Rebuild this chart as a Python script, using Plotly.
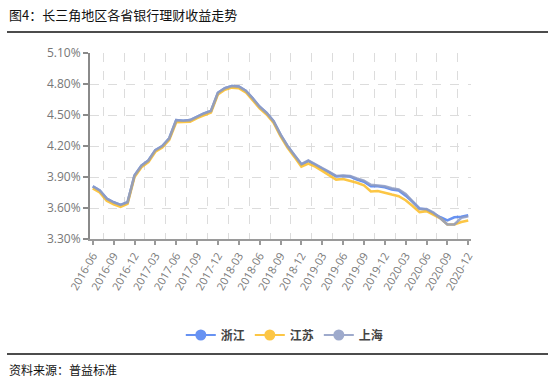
import plotly.graph_objects as go

# ---- data ----
months = [f"{y}-{m:02d}" for y in range(2016, 2021) for m in range(1, 13)]
months = months[months.index("2016-06"):months.index("2020-12") + 1]

zhejiang = [3.81, 3.77, 3.69, 3.655, 3.63, 3.655, 3.915, 4.01, 4.06, 4.16,
            4.20, 4.275, 4.45, 4.445, 4.45, 4.485, 4.515, 4.54, 4.715, 4.76,
            4.78, 4.775, 4.735, 4.66, 4.58, 4.52, 4.44, 4.31, 4.20, 4.11,
            4.02, 4.055, 4.015, 3.98, 3.945, 3.905, 3.91, 3.905, 3.875, 3.855,
            3.81, 3.81, 3.80, 3.78, 3.77, 3.72, 3.66, 3.595, 3.585, 3.545,
            3.51, 3.48, 3.51, 3.515, 3.53]
jiangsu = [3.79, 3.75, 3.67, 3.635, 3.61, 3.64, 3.90, 3.995, 4.045, 4.145,
           4.185, 4.26, 4.43, 4.43, 4.435, 4.47, 4.50, 4.525, 4.70, 4.745,
           4.765, 4.76, 4.72, 4.645, 4.565, 4.505, 4.425, 4.295, 4.185, 4.095,
           4.00, 4.03, 4.00, 3.96, 3.915, 3.875, 3.88, 3.865, 3.845, 3.82,
           3.76, 3.765, 3.745, 3.73, 3.715, 3.675, 3.62, 3.56, 3.57, 3.535,
           3.50, 3.44, 3.44, 3.465, 3.48]
shanghai = [3.81, 3.77, 3.69, 3.655, 3.63, 3.655, 3.915, 4.01, 4.06, 4.16,
            4.20, 4.275, 4.45, 4.445, 4.45, 4.485, 4.515, 4.54, 4.715, 4.76,
            4.78, 4.775, 4.735, 4.66, 4.58, 4.52, 4.44, 4.31, 4.20, 4.11,
            4.025, 4.06, 4.02, 3.985, 3.95, 3.91, 3.915, 3.91, 3.885, 3.865,
            3.825, 3.82, 3.81, 3.79, 3.78, 3.735, 3.665, 3.59, 3.59, 3.555,
            3.50, 3.44, 3.44, 3.505, 3.52]

series = [("浙江", zhejiang, "#4D7FF0"),
          ("江苏", jiangsu, "#FCBD25"),
          ("上海", shanghai, "#8E9CC4")]

yticks = [3.30, 3.60, 3.90, 4.20, 4.50, 4.80, 5.10]

title_text = "图4：长三角地区各省银行理财收益走势"
source_text = "资料来源：普益标准"

# ---- geometry (pixels) ----
W, H = 553, 382
L, R, T, B = 90, 471, 53, 239


def px(x):
    return (x - L) / (R - L)


def py(y):
    return (B - y) / (B - T)


xs = list(range(len(months)))

fig = go.Figure()
for name, vals, col in series:
    fig.add_trace(go.Scatter(x=xs, y=vals, mode="lines", name=name,
                             line=dict(color=col, width=2.6), opacity=0.85,
                             showlegend=False, hoverinfo="skip"))
for name, vals, col in series:
    fig.add_trace(go.Scatter(x=[None], y=[None], mode="lines+markers", name=name,
                             line=dict(color=col, width=2), opacity=0.85,
                             marker=dict(color=col, size=11)))

tickidx = xs[::3]
fig.update_layout(
    width=W, height=H,
    margin=dict(l=L, r=W - R, t=T, b=H - B),
    paper_bgcolor="white", plot_bgcolor="white",
    font=dict(family="Open Sans, Noto Sans CJK SC", color="#666"),
    xaxis=dict(
        range=[-0.4, len(months) - 1 + 0.4],
        tickvals=tickidx, ticktext=[months[i] for i in tickidx],
        tickangle=-60, tickfont=dict(size=11, color="#777"),
        showgrid=False, zeroline=False,
        showline=True, linecolor="#9a9a9a", linewidth=2,
        ticks="outside", ticklen=4, tickcolor="#9a9a9a", tickwidth=1.5,
        minor=dict(tick0=1.5, dtick=3, showgrid=True, gridcolor="#dcdcdc",
                   griddash="dash", gridwidth=1, ticks=""),
    ),
    yaxis=dict(
        range=[3.30, 5.10], tickvals=yticks,
        ticktext=[f"{v:.2f}%" for v in yticks],
        tickfont=dict(size=12, color="#777"),
        showgrid=True, gridcolor="#dcdcdc", griddash="dash", gridwidth=1,
        zeroline=False, showline=True, linecolor="#8a8a8a", linewidth=2,
        ticks="outside", ticklen=5, tickcolor="#8a8a8a", tickwidth=1.5,
    ),
    legend=dict(orientation="h", xref="container", yref="container",
                x=0.515, xanchor="center", y=1 - 335 / H, yanchor="middle",
                font=dict(family="Noto Sans CJK SC", size=12, color="#444",
                          weight="bold"),
                itemwidth=30, tracegroupgap=0, bgcolor="rgba(0,0,0,0)"),
    showlegend=True,
)

fig.add_annotation(text=title_text, xref="paper", yref="paper",
                   x=px(7), y=py(15), xanchor="left", yanchor="middle",
                   showarrow=False,
                   font=dict(family="Noto Sans CJK SC", size=13, color="#111"))
fig.add_annotation(text=source_text, xref="paper", yref="paper",
                   x=px(7), y=py(369), xanchor="left", yanchor="middle",
                   showarrow=False,
                   font=dict(family="Noto Sans CJK SC", size=12, color="#111"))
for yline in (32, 354):
    fig.add_shape(type="line", xref="paper", yref="paper",
                  x0=px(7), x1=px(548), y0=py(yline), y1=py(yline),
                  line=dict(color="#111", width=1.5))

fig.write_html("out.html",
               config={"displayModeBar": False},
               post_script="document.body.style.margin='0';"
                           "document.documentElement.style.overflow='hidden';")
